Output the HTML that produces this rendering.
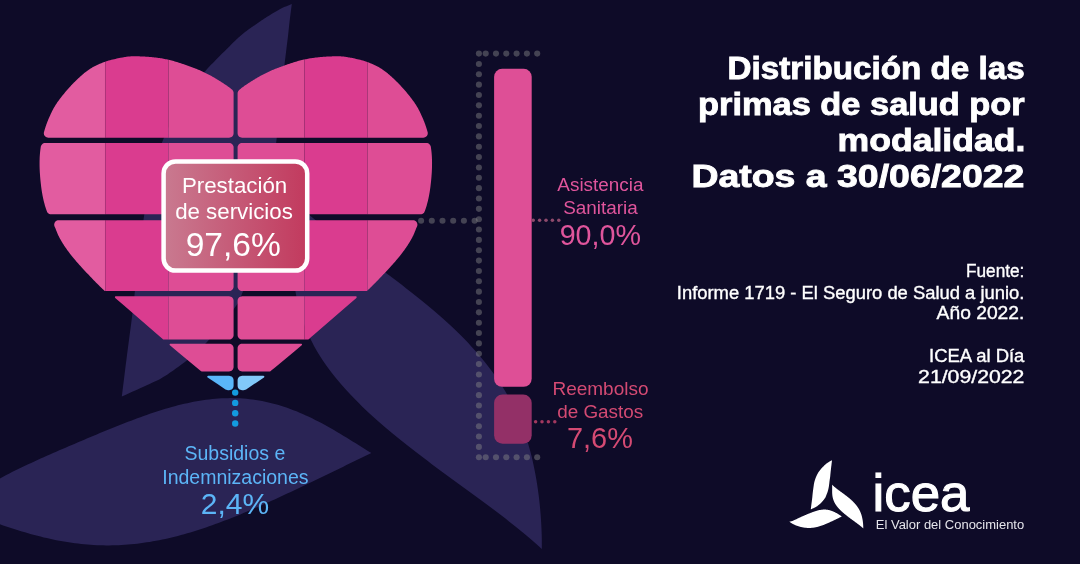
<!DOCTYPE html>
<html lang="es"><head><meta charset="utf-8"><title>Distribución de las primas de salud por modalidad</title>
<style>
html,body{margin:0;padding:0;background:#0E0B28;}
body{width:1080px;height:564px;overflow:hidden;}
svg{display:block;will-change:transform;}
text{font-family:'Liberation Sans', Arial, Helvetica, sans-serif;}
</style></head><body>
<svg width="1080" height="564" viewBox="0 0 1080 564">
<defs>
<linearGradient id="boxg" x1="0" y1="0" x2="1" y2="0">
<stop offset="0" stop-color="#C97A90"/><stop offset="1" stop-color="#C23A5E"/>
</linearGradient>
</defs>
<rect width="1080" height="564" fill="#0E0B28"/>
<g fill="#2A2455"><path d="M291.80 4.10 L290.64 4.56 L289.45 5.02 L288.26 5.48 L287.07 5.94 L285.90 6.40 L284.75 6.86 L283.65 7.33 L282.60 7.80 L281.61 8.28 L280.68 8.75 L279.78 9.23 L278.92 9.71 L278.07 10.20 L277.23 10.69 L276.37 11.19 L275.50 11.70 L274.61 12.22 L273.73 12.74 L272.84 13.27 L271.95 13.81 L271.06 14.35 L270.17 14.89 L269.29 15.45 L268.40 16.00 L267.51 16.56 L266.62 17.12 L265.74 17.69 L264.85 18.26 L263.96 18.84 L263.07 19.42 L262.19 20.01 L261.30 20.60 L260.41 21.20 L259.53 21.80 L258.64 22.41 L257.75 23.03 L256.86 23.64 L255.98 24.26 L255.09 24.88 L254.20 25.50 L253.31 26.12 L252.42 26.73 L251.54 27.34 L250.65 27.95 L249.76 28.57 L248.87 29.20 L247.99 29.84 L247.10 30.50 L246.21 31.17 L245.32 31.86 L244.42 32.56 L243.53 33.26 L242.64 33.98 L241.75 34.71 L240.87 35.45 L240.00 36.20 L239.21 36.89 L238.53 37.49 L237.91 38.05 L237.26 38.65 L236.54 39.34 L235.66 40.19 L234.57 41.25 L233.20 42.60 L231.46 44.31 L229.38 46.38 L227.05 48.68 L224.59 51.13 L222.10 53.62 L219.69 56.05 L217.45 58.31 L215.50 60.30 L213.91 61.91 L212.62 63.17 L211.51 64.24 L210.47 65.27 L209.39 66.39 L208.16 67.76 L206.67 69.51 L204.80 71.80 L202.50 74.63 L199.86 77.85 L196.97 81.41 L193.92 85.24 L190.80 89.28 L187.72 93.46 L184.75 97.72 L182.00 102.00 L179.40 106.36 L176.84 110.90 L174.33 115.59 L171.89 120.39 L169.52 125.26 L167.24 130.18 L165.06 135.10 L163.00 140.00 L161.04 144.92 L159.17 149.93 L157.38 154.99 L155.69 160.06 L154.11 165.13 L152.62 170.16 L151.25 175.13 L150.00 180.00 L148.91 184.73 L147.99 189.32 L147.20 193.83 L146.51 198.31 L145.87 202.82 L145.25 207.40 L144.61 212.11 L143.90 217.00 L143.14 222.16 L142.35 227.56 L141.56 233.12 L140.78 238.75 L140.01 244.34 L139.29 249.81 L138.61 255.06 L138.00 260.00 L137.46 264.68 L136.97 269.22 L136.53 273.60 L136.13 277.83 L135.76 281.89 L135.40 285.78 L135.05 289.48 L134.70 293.00 L134.38 296.13 L134.10 298.78 L133.86 301.15 L133.62 303.39 L133.37 305.70 L133.08 308.23 L132.73 311.17 L132.30 314.70 L131.78 318.84 L131.18 323.44 L130.52 328.40 L129.82 333.61 L129.11 338.98 L128.39 344.40 L127.68 349.78 L127.00 355.00 L126.35 360.13 L125.69 365.29 L125.04 370.47 L124.39 375.68 L123.75 380.88 L123.10 386.10 L122.45 391.30 L121.80 396.50 L125.36 394.91 L129.04 393.27 L132.77 391.61 L136.47 389.97 L140.08 388.36 L143.52 386.81 L146.72 385.35 L149.60 384.00 L152.07 382.84 L154.16 381.87 L155.98 381.02 L157.64 380.22 L159.26 379.39 L160.96 378.46 L162.83 377.35 L165.00 376.00 L167.48 374.40 L170.15 372.61 L172.97 370.67 L175.88 368.62 L178.82 366.50 L181.75 364.33 L184.59 362.15 L187.30 360.00 L189.82 357.97 L192.19 356.06 L194.47 354.19 L196.73 352.25 L199.05 350.16 L201.48 347.81 L204.11 345.12 L207.00 342.00 L210.34 338.20 L214.13 333.73 L218.19 328.81 L222.34 323.69 L226.38 318.61 L230.13 313.80 L233.40 309.52 L236.00 306.00 L237.82 303.45 L238.97 301.72 L239.66 300.54 L240.04 299.62 L240.32 298.70 L240.67 297.47 L241.27 295.66 L242.30 293.00 L243.77 289.45 L245.52 285.26 L247.45 280.58 L249.48 275.56 L251.54 270.35 L253.53 265.09 L255.38 259.92 L257.00 255.00 L258.42 250.31 L259.72 245.71 L260.92 241.15 L262.04 236.56 L263.10 231.91 L264.09 227.13 L265.06 222.18 L266.00 217.00 L266.90 211.44 L267.75 205.48 L268.54 199.29 L269.28 193.00 L269.99 186.78 L270.68 180.77 L271.34 175.12 L272.00 170.00 L272.64 165.50 L273.24 161.54 L273.82 157.94 L274.38 154.56 L274.92 151.24 L275.45 147.80 L275.97 144.11 L276.50 140.00 L277.02 135.45 L277.53 130.61 L278.03 125.57 L278.53 120.39 L279.01 115.16 L279.50 109.97 L280.00 104.89 L280.50 100.00 L281.01 95.23 L281.54 90.46 L282.07 85.74 L282.59 81.08 L283.12 76.53 L283.63 72.11 L284.13 67.85 L284.60 63.80 L285.06 59.92 L285.52 56.16 L285.97 52.53 L286.40 49.06 L286.81 45.75 L287.21 42.61 L287.57 39.66 L287.90 36.90 L288.19 34.42 L288.43 32.24 L288.63 30.29 L288.82 28.49 L289.00 26.77 L289.18 25.05 L289.37 23.25 L289.60 21.30 L289.85 19.23 L290.11 17.11 L290.39 14.97 L290.67 12.80 L290.95 10.62 L291.24 8.44 L291.52 6.26 L291.80 4.10Z"/><path d="M292.96 200.00 L295.48 202.51 L298.10 205.02 L300.80 207.53 L303.58 210.04 L306.43 212.55 L309.35 215.06 L312.34 217.58 L315.38 220.09 L318.48 222.60 L321.62 225.11 L324.81 227.62 L328.04 230.13 L331.31 232.64 L334.61 235.15 L337.95 237.66 L341.30 240.17 L344.68 242.68 L348.07 245.19 L351.48 247.71 L354.91 250.22 L358.33 252.73 L361.77 255.24 L365.21 257.75 L368.64 260.26 L372.07 262.77 L375.50 265.28 L378.92 267.79 L382.33 270.30 L385.72 272.81 L389.09 275.32 L392.45 277.83 L395.79 280.35 L399.11 282.86 L402.40 285.37 L405.67 287.88 L408.91 290.39 L412.12 292.90 L415.29 295.41 L418.44 297.92 L421.55 300.43 L424.63 302.94 L427.67 305.45 L430.68 307.96 L433.64 310.47 L436.57 312.99 L439.45 315.50 L442.29 318.01 L445.10 320.52 L447.85 323.03 L450.57 325.54 L453.24 328.05 L455.86 330.56 L458.44 333.07 L460.98 335.58 L463.47 338.09 L465.91 340.60 L468.30 343.12 L470.65 345.63 L472.95 348.14 L475.21 350.65 L477.41 353.16 L479.57 355.67 L481.68 358.18 L483.75 360.69 L485.77 363.20 L487.74 365.71 L489.66 368.22 L491.54 370.73 L493.38 373.24 L495.16 375.76 L496.90 378.27 L498.60 380.78 L500.25 383.29 L501.86 385.80 L503.42 388.31 L504.95 390.82 L506.42 393.33 L507.86 395.84 L509.26 398.35 L510.61 400.86 L511.93 403.37 L513.20 405.88 L514.44 408.40 L515.63 410.91 L516.80 413.42 L517.92 415.93 L519.01 418.44 L520.06 420.95 L521.08 423.46 L522.06 425.97 L523.01 428.48 L523.93 430.99 L524.82 433.50 L525.67 436.01 L526.50 438.53 L527.30 441.04 L528.07 443.55 L528.81 446.06 L529.52 448.57 L530.21 451.08 L530.87 453.59 L531.50 456.10 L532.12 458.61 L532.70 461.12 L533.27 463.63 L533.81 466.14 L534.33 468.65 L534.83 471.17 L535.31 473.68 L535.77 476.19 L536.21 478.70 L536.64 481.21 L537.04 483.72 L537.43 486.23 L537.79 488.74 L538.14 491.25 L538.48 493.76 L538.80 496.27 L539.10 498.78 L539.38 501.29 L539.65 503.81 L539.91 506.32 L540.15 508.83 L540.37 511.34 L540.58 513.85 L540.77 516.36 L540.95 518.87 L541.11 521.38 L541.26 523.89 L541.39 526.40 L541.51 528.91 L541.60 531.42 L541.69 533.94 L541.75 536.45 L541.80 538.96 L541.83 541.47 L541.84 543.98 L541.83 546.49 L541.80 549.00 L539.07 546.49 L536.29 543.98 L533.46 541.47 L530.57 538.96 L527.62 536.45 L524.63 533.94 L521.59 531.42 L518.50 528.91 L515.38 526.40 L512.21 523.89 L509.01 521.38 L505.78 518.87 L502.51 516.36 L499.22 513.85 L495.90 511.34 L492.56 508.83 L489.19 506.32 L485.81 503.81 L482.42 501.29 L479.01 498.78 L475.59 496.27 L472.16 493.76 L468.73 491.25 L465.29 488.74 L461.85 486.23 L458.41 483.72 L454.98 481.21 L451.54 478.70 L448.12 476.19 L444.70 473.68 L441.29 471.17 L437.90 468.65 L434.52 466.14 L431.15 463.63 L427.81 461.12 L424.48 458.61 L421.17 456.10 L417.89 453.59 L414.62 451.08 L411.39 448.57 L408.18 446.06 L405.00 443.55 L401.85 441.04 L398.73 438.53 L395.65 436.01 L392.60 433.50 L389.58 430.99 L386.60 428.48 L383.65 425.97 L380.75 423.46 L377.89 420.95 L375.06 418.44 L372.28 415.93 L369.54 413.42 L366.84 410.91 L364.19 408.40 L361.58 405.88 L359.02 403.37 L356.51 400.86 L354.04 398.35 L351.62 395.84 L349.25 393.33 L346.92 390.82 L344.65 388.31 L342.43 385.80 L340.26 383.29 L338.14 380.78 L336.06 378.27 L334.05 375.76 L332.08 373.24 L330.16 370.73 L328.30 368.22 L326.49 365.71 L324.73 363.20 L323.02 360.69 L321.37 358.18 L319.77 355.67 L318.22 353.16 L316.72 350.65 L315.28 348.14 L313.88 345.63 L312.54 343.12 L311.25 340.60 L310.01 338.09 L308.82 335.58 L307.68 333.07 L306.59 330.56 L305.55 328.05 L304.55 325.54 L303.61 323.03 L302.71 320.52 L301.86 318.01 L301.05 315.50 L300.29 312.99 L299.58 310.47 L298.90 307.96 L298.27 305.45 L297.68 302.94 L297.14 300.43 L296.63 297.92 L296.16 295.41 L295.72 292.90 L295.33 290.39 L294.97 287.88 L294.64 285.37 L294.34 282.86 L294.08 280.35 L293.85 277.83 L293.64 275.32 L293.46 272.81 L293.31 270.30 L293.18 267.79 L293.07 265.28 L292.99 262.77 L292.92 260.26 L292.87 257.75 L292.84 255.24 L292.82 252.73 L292.81 250.22 L292.81 247.71 L292.82 245.19 L292.84 242.68 L292.86 240.17 L292.88 237.66 L292.91 235.15 L292.93 232.64 L292.95 230.13 L292.96 227.62 L292.96 225.11 L292.95 222.60 L292.93 220.09 L292.90 217.58 L292.84 215.06 L292.77 212.55 L292.67 210.04 L292.54 207.53 L292.39 205.02 L292.21 202.51Z"/><path d="M371.40 453.01 L368.28 451.20 L365.16 449.24 L362.04 447.28 L358.92 445.31 L355.79 443.35 L352.67 441.40 L349.55 439.46 L346.43 437.53 L343.31 435.63 L340.19 433.75 L337.07 431.89 L333.95 430.06 L330.83 428.27 L327.71 426.51 L324.58 424.79 L321.46 423.11 L318.34 421.47 L315.22 419.88 L312.10 418.33 L308.98 416.84 L305.86 415.39 L302.74 413.99 L299.62 412.65 L296.50 411.37 L293.37 410.14 L290.25 408.96 L287.13 407.85 L284.01 406.79 L280.89 405.79 L277.77 404.85 L274.65 403.98 L271.53 403.16 L268.41 402.41 L265.29 401.72 L262.16 401.08 L259.04 400.51 L255.92 400.01 L252.80 399.56 L249.68 399.17 L246.56 398.85 L243.44 398.58 L240.32 398.37 L237.20 398.22 L234.08 398.13 L230.95 398.10 L227.83 398.13 L224.71 398.21 L221.59 398.34 L218.47 398.53 L215.35 398.77 L212.23 399.07 L209.11 399.41 L205.99 399.81 L202.87 400.25 L199.74 400.74 L196.62 401.27 L193.50 401.85 L190.38 402.47 L187.26 403.14 L184.14 403.84 L181.02 404.59 L177.90 405.37 L174.78 406.19 L171.66 407.04 L168.53 407.92 L165.41 408.84 L162.29 409.79 L159.17 410.77 L156.05 411.77 L152.93 412.80 L149.81 413.86 L146.69 414.94 L143.57 416.04 L140.45 417.17 L137.32 418.31 L134.20 419.47 L131.08 420.65 L127.96 421.84 L124.84 423.05 L121.72 424.27 L118.60 425.51 L115.48 426.75 L112.36 428.01 L109.24 429.28 L106.11 430.55 L102.99 431.83 L99.87 433.12 L96.75 434.42 L93.63 435.72 L90.51 437.03 L87.39 438.35 L84.27 439.66 L81.15 440.99 L78.03 442.31 L74.90 443.64 L71.78 444.98 L68.66 446.32 L65.54 447.66 L62.42 449.01 L59.30 450.36 L56.18 451.72 L53.06 453.08 L49.94 454.45 L46.82 455.83 L43.69 457.22 L40.57 458.62 L37.45 460.02 L34.33 461.44 L31.21 462.88 L28.09 464.33 L24.97 465.79 L21.85 467.28 L18.73 468.78 L15.61 470.31 L12.48 471.87 L9.36 473.45 L6.24 475.06 L3.12 476.71 L0.00 478.39 L-25.00 489.00 L-50.00 496.00 L-25.00 512.00 L0.00 524.35 L3.12 525.41 L6.24 526.45 L9.36 527.48 L12.48 528.49 L15.61 529.49 L18.73 530.46 L21.85 531.42 L24.97 532.35 L28.09 533.25 L31.21 534.13 L34.33 534.99 L37.45 535.81 L40.57 536.61 L43.69 537.38 L46.82 538.12 L49.94 538.82 L53.06 539.50 L56.18 540.14 L59.30 540.74 L62.42 541.31 L65.54 541.85 L68.66 542.35 L71.78 542.81 L74.90 543.24 L78.03 543.62 L81.15 543.98 L84.27 544.29 L87.39 544.56 L90.51 544.80 L93.63 544.99 L96.75 545.15 L99.87 545.27 L102.99 545.35 L106.11 545.39 L109.24 545.39 L112.36 545.35 L115.48 545.27 L118.60 545.15 L121.72 545.00 L124.84 544.80 L127.96 544.57 L131.08 544.30 L134.20 543.99 L137.32 543.64 L140.45 543.25 L143.57 542.83 L146.69 542.37 L149.81 541.88 L152.93 541.35 L156.05 540.78 L159.17 540.18 L162.29 539.55 L165.41 538.88 L168.53 538.18 L171.66 537.45 L174.78 536.68 L177.90 535.88 L181.02 535.05 L184.14 534.20 L187.26 533.31 L190.38 532.39 L193.50 531.45 L196.62 530.48 L199.74 529.48 L202.87 528.45 L205.99 527.40 L209.11 526.33 L212.23 525.23 L215.35 524.11 L218.47 522.96 L221.59 521.80 L224.71 520.61 L227.83 519.41 L230.95 518.18 L234.08 516.93 L237.20 515.67 L240.32 514.39 L243.44 513.10 L246.56 511.78 L249.68 510.46 L252.80 509.11 L255.92 507.76 L259.04 506.39 L262.16 505.01 L265.29 503.62 L268.41 502.21 L271.53 500.80 L274.65 499.38 L277.77 497.94 L280.89 496.50 L284.01 495.06 L287.13 493.60 L290.25 492.14 L293.37 490.67 L296.50 489.19 L299.62 487.71 L302.74 486.23 L305.86 484.74 L308.98 483.24 L312.10 481.75 L315.22 480.24 L318.34 478.74 L321.46 477.23 L324.58 475.73 L327.71 474.21 L330.83 472.70 L333.95 471.19 L337.07 469.67 L340.19 468.15 L343.31 466.63 L346.43 465.11 L349.55 463.58 L352.67 462.06 L355.79 460.53 L358.92 459.00 L362.04 457.47 L365.16 455.94 L368.28 454.40Z"/></g>
<g><path d="M43.83 132.84 L43.85 133.76 L44.06 134.67 L44.45 135.51 L45.00 136.25 L45.70 136.86 L46.51 137.32 L47.39 137.60 L48.31 137.70 L105.30 137.70 L105.30 61.68 L104.37 62.03 L104.32 62.04 L102.87 62.60 L102.82 62.62 L101.35 63.20 L101.29 63.22 L99.80 63.83 L99.73 63.86 L98.25 64.51 L98.16 64.54 L96.69 65.22 L96.60 65.26 L95.14 65.97 L95.04 66.02 L93.62 66.76 L93.50 66.82 L92.13 67.58 L91.99 67.66 L90.67 68.46 L90.53 68.54 L89.24 69.39 L89.11 69.47 L87.82 70.38 L87.71 70.46 L86.42 71.42 L86.33 71.49 L85.03 72.51 L84.96 72.57 L83.67 73.62 L83.61 73.68 L82.32 74.77 L82.27 74.82 L80.99 75.94 L80.95 75.97 L79.68 77.12 L79.65 77.15 L78.38 78.31 L78.36 78.33 L77.12 79.48 L77.08 79.52 L75.87 80.67 L75.82 80.72 L74.63 81.88 L74.58 81.93 L73.40 83.11 L73.36 83.16 L72.20 84.36 L72.16 84.40 L71.01 85.62 L70.97 85.66 L69.83 86.90 L69.80 86.94 L68.68 88.19 L68.65 88.22 L67.54 89.48 L67.51 89.51 L66.42 90.78 L66.39 90.81 L65.31 92.09 L65.29 92.11 L64.22 93.40 L64.19 93.43 L63.13 94.73 L63.10 94.76 L62.05 96.07 L62.02 96.10 L60.99 97.41 L60.96 97.46 L59.95 98.77 L59.91 98.82 L58.93 100.13 L58.89 100.18 L57.95 101.49 L57.90 101.55 L57.00 102.85 L56.95 102.92 L56.09 104.21 L56.04 104.29 L55.23 105.55 L55.17 105.65 L54.41 106.91 L54.35 107.01 L53.63 108.28 L53.58 108.37 L52.88 109.66 L52.84 109.74 L52.17 111.05 L52.14 111.12 L51.50 112.43 L51.47 112.49 L50.85 113.80 L50.83 113.85 L50.23 115.16 L50.21 115.19 L49.63 116.49 L49.62 116.52 L49.06 117.81 L49.05 117.83 L48.51 119.08 L48.49 119.12 L47.99 120.32 L47.96 120.38 L47.49 121.55 L47.46 121.61 L47.02 122.76 L47.00 122.82 L46.58 123.95 L46.56 124.00 L46.16 125.12 L46.14 125.18 L45.76 126.29 L45.74 126.34 L45.38 127.44 L45.36 127.49 L45.01 128.59 L45.00 128.63 L44.65 129.74 L44.64 129.77 L44.31 130.88 L44.30 130.92 L44.00 131.92Z" fill="#E25CA0"/>
<path d="M168.40 137.70 L168.40 59.75 L167.66 59.58 L167.62 59.57 L166.63 59.36 L166.60 59.35 L165.61 59.14 L165.58 59.13 L164.59 58.94 L164.55 58.93 L163.57 58.74 L163.53 58.73 L162.55 58.55 L162.52 58.54 L161.53 58.37 L161.50 58.37 L160.52 58.20 L160.48 58.20 L159.51 58.04 L159.46 58.04 L158.50 57.90 L158.45 57.89 L157.49 57.76 L157.45 57.75 L156.48 57.63 L156.44 57.62 L155.47 57.51 L155.43 57.50 L154.46 57.40 L154.43 57.39 L153.45 57.29 L153.42 57.29 L152.44 57.19 L152.41 57.19 L151.42 57.09 L151.40 57.09 L150.41 57.00 L150.39 57.00 L149.40 56.91 L149.37 56.91 L148.38 56.83 L148.35 56.83 L147.36 56.76 L147.33 56.76 L146.34 56.69 L146.31 56.69 L145.32 56.63 L145.29 56.62 L144.30 56.57 L144.27 56.57 L143.28 56.52 L143.25 56.52 L142.25 56.47 L142.23 56.47 L141.23 56.43 L141.21 56.43 L140.20 56.40 L139.18 56.37 L138.17 56.33 L138.17 56.33 L137.17 56.30 L137.15 56.30 L136.17 56.28 L136.13 56.27 L135.16 56.26 L135.11 56.26 L134.16 56.25 L134.09 56.25 L133.14 56.26 L133.06 56.26 L132.12 56.28 L132.03 56.28 L131.10 56.33 L130.99 56.33 L130.05 56.40 L129.95 56.40 L128.99 56.49 L128.92 56.50 L127.96 56.60 L127.88 56.61 L126.92 56.73 L126.85 56.74 L125.88 56.87 L125.82 56.88 L124.83 57.03 L124.77 57.04 L123.76 57.21 L123.71 57.22 L122.67 57.41 L122.63 57.42 L121.56 57.62 L121.52 57.63 L120.40 57.85 L120.37 57.86 L119.20 58.10 L117.97 58.35 L116.72 58.61 L116.71 58.61 L115.44 58.88 L115.41 58.88 L114.14 59.16 L114.09 59.17 L112.81 59.46 L112.74 59.48 L111.46 59.79 L111.37 59.81 L110.08 60.15 L109.99 60.18 L108.69 60.55 L108.58 60.58 L107.29 60.99 L107.16 61.03 L105.84 61.49 L105.76 61.52 L105.30 61.68 L105.30 137.70Z" fill="#DA3C8F"/>
<path d="M229.10 137.70 L229.98 137.61 L230.82 137.36 L231.60 136.94 L232.28 136.38 L232.84 135.70 L233.26 134.92 L233.51 134.08 L233.60 133.20 L233.60 93.01 L233.50 92.05 L233.19 91.13 L232.69 90.30 L232.02 89.59 L231.94 89.52 L231.90 89.48 L231.26 88.96 L231.21 88.91 L230.56 88.39 L230.50 88.34 L229.83 87.82 L229.77 87.78 L229.07 87.25 L229.03 87.22 L228.31 86.70 L228.27 86.67 L227.53 86.14 L227.49 86.12 L226.74 85.59 L226.70 85.57 L225.93 85.04 L225.90 85.01 L225.10 84.48 L225.08 84.46 L224.26 83.92 L224.24 83.91 L223.39 83.36 L223.38 83.34 L222.51 82.78 L222.50 82.78 L221.61 82.20 L221.59 82.20 L220.67 81.61 L220.66 81.60 L219.71 81.00 L219.70 80.99 L218.72 80.38 L218.70 80.37 L217.71 79.75 L217.69 79.74 L216.69 79.13 L216.66 79.11 L215.65 78.50 L215.63 78.48 L214.61 77.88 L214.58 77.86 L213.57 77.27 L213.54 77.25 L212.54 76.68 L212.50 76.66 L211.52 76.11 L211.48 76.09 L210.50 75.55 L210.47 75.54 L209.48 75.01 L209.45 74.99 L208.46 74.47 L208.43 74.46 L207.44 73.95 L207.41 73.93 L206.42 73.43 L206.39 73.42 L205.40 72.93 L205.37 72.91 L204.38 72.43 L204.35 72.42 L203.36 71.95 L203.33 71.93 L202.34 71.47 L202.30 71.46 L201.32 71.01 L201.28 70.99 L200.30 70.56 L200.26 70.54 L199.28 70.12 L199.24 70.10 L198.26 69.69 L198.22 69.67 L197.24 69.27 L197.20 69.26 L196.21 68.86 L196.19 68.85 L195.19 68.46 L195.17 68.45 L194.17 68.06 L194.15 68.06 L193.15 67.67 L193.13 67.67 L192.12 67.29 L192.12 67.28 L191.10 66.90 L191.10 66.90 L190.09 66.52 L190.07 66.51 L189.07 66.14 L189.05 66.14 L188.05 65.77 L188.03 65.76 L187.03 65.40 L187.01 65.39 L186.01 65.03 L185.99 65.03 L184.99 64.68 L184.97 64.67 L183.97 64.32 L183.95 64.32 L182.95 63.98 L182.93 63.97 L181.93 63.64 L181.91 63.63 L180.91 63.30 L180.89 63.30 L179.89 62.97 L179.87 62.97 L178.87 62.65 L178.85 62.64 L177.85 62.33 L177.83 62.32 L176.83 62.02 L176.81 62.01 L175.81 61.71 L175.79 61.70 L174.80 61.41 L174.76 61.40 L173.78 61.12 L173.74 61.11 L172.76 60.84 L172.72 60.83 L171.74 60.57 L171.70 60.56 L170.72 60.31 L170.68 60.29 L169.70 60.05 L169.66 60.05 L168.68 59.81 L168.64 59.80 L168.40 59.75 L168.40 137.70Z" fill="#DE4D95"/>
<path d="M105.70 137.70 L105.70 61.54 L104.90 61.83 L104.90 137.70Z" fill="#A8327C" fill-opacity="0.13"/>
<path d="M168.80 137.70 L168.80 59.84 L168.68 59.81 L168.64 59.80 L168.00 59.66 L168.00 137.70Z" fill="#A8327C" fill-opacity="0.13"/>
<path d="M238.51 90.64 L238.01 91.47 L237.70 92.39 L237.60 93.35 L237.60 133.20 L237.69 134.08 L237.94 134.92 L238.36 135.70 L238.92 136.38 L239.60 136.94 L240.38 137.36 L241.22 137.61 L242.10 137.70 L304.50 137.70 L304.50 59.46 L303.98 59.57 L303.94 59.58 L302.96 59.80 L302.92 59.81 L301.94 60.05 L301.90 60.05 L300.92 60.29 L300.88 60.31 L299.90 60.56 L299.86 60.57 L298.88 60.83 L298.84 60.84 L297.86 61.11 L297.82 61.12 L296.84 61.40 L296.80 61.41 L295.81 61.70 L295.79 61.71 L294.79 62.01 L294.77 62.02 L293.77 62.32 L293.75 62.33 L292.75 62.64 L292.73 62.65 L291.73 62.97 L291.71 62.97 L290.71 63.30 L290.69 63.30 L289.69 63.63 L289.67 63.64 L288.67 63.97 L288.65 63.98 L287.65 64.32 L287.63 64.32 L286.63 64.67 L286.61 64.68 L285.61 65.03 L285.59 65.03 L284.59 65.39 L284.57 65.40 L283.57 65.76 L283.55 65.77 L282.55 66.14 L282.53 66.14 L281.53 66.51 L281.51 66.52 L280.50 66.90 L280.50 66.90 L279.48 67.28 L279.48 67.29 L278.47 67.67 L278.45 67.67 L277.45 68.06 L277.43 68.06 L276.43 68.45 L276.41 68.46 L275.41 68.85 L275.39 68.86 L274.40 69.26 L274.36 69.27 L273.38 69.67 L273.34 69.69 L272.36 70.10 L272.32 70.12 L271.34 70.54 L271.30 70.56 L270.32 70.99 L270.28 71.01 L269.30 71.46 L269.26 71.47 L268.27 71.93 L268.24 71.95 L267.25 72.42 L267.22 72.43 L266.23 72.91 L266.20 72.93 L265.21 73.42 L265.18 73.43 L264.19 73.93 L264.16 73.95 L263.17 74.46 L263.14 74.47 L262.15 74.99 L262.12 75.01 L261.13 75.54 L261.10 75.55 L260.12 76.09 L260.08 76.11 L259.10 76.66 L259.06 76.68 L258.06 77.25 L258.03 77.27 L257.02 77.86 L256.99 77.88 L255.97 78.48 L255.95 78.50 L254.94 79.11 L254.91 79.13 L253.91 79.74 L253.89 79.75 L252.90 80.37 L252.88 80.38 L251.90 80.99 L251.89 81.00 L250.94 81.60 L250.93 81.61 L250.01 82.20 L249.99 82.20 L249.10 82.78 L249.09 82.78 L248.22 83.34 L248.21 83.36 L247.36 83.91 L247.34 83.92 L246.52 84.46 L246.50 84.48 L245.70 85.01 L245.67 85.04 L244.90 85.57 L244.86 85.59 L244.11 86.12 L244.07 86.14 L243.33 86.67 L243.29 86.70 L242.57 87.22 L242.53 87.25 L241.83 87.78 L241.77 87.82 L241.10 88.34 L241.04 88.39 L240.39 88.91 L240.34 88.96 L239.70 89.48 L239.66 89.52 L239.18 89.93Z" fill="#DE4D95"/>
<path d="M367.40 137.70 L367.40 62.09 L367.28 62.04 L367.23 62.03 L365.84 61.52 L365.76 61.49 L364.44 61.03 L364.31 60.99 L363.02 60.58 L362.91 60.55 L361.61 60.18 L361.52 60.15 L360.23 59.81 L360.14 59.79 L358.86 59.48 L358.79 59.46 L357.51 59.17 L357.46 59.16 L356.19 58.88 L356.16 58.88 L354.89 58.61 L354.88 58.61 L353.63 58.35 L352.40 58.10 L351.23 57.86 L351.20 57.85 L350.08 57.63 L350.04 57.62 L348.97 57.42 L348.93 57.41 L347.89 57.22 L347.84 57.21 L346.83 57.04 L346.77 57.03 L345.78 56.88 L345.72 56.87 L344.75 56.74 L344.68 56.73 L343.72 56.61 L343.64 56.60 L342.68 56.50 L342.61 56.49 L341.65 56.40 L341.55 56.40 L340.61 56.33 L340.50 56.33 L339.57 56.28 L339.48 56.28 L338.54 56.26 L338.46 56.26 L337.51 56.25 L337.44 56.25 L336.49 56.26 L336.44 56.26 L335.47 56.27 L335.43 56.28 L334.45 56.30 L334.43 56.30 L333.43 56.33 L333.43 56.33 L332.42 56.37 L331.40 56.40 L330.39 56.43 L330.37 56.43 L329.37 56.47 L329.35 56.47 L328.35 56.52 L328.32 56.52 L327.33 56.57 L327.30 56.57 L326.31 56.62 L326.28 56.63 L325.29 56.69 L325.26 56.69 L324.27 56.76 L324.24 56.76 L323.25 56.83 L323.22 56.83 L322.23 56.91 L322.20 56.91 L321.21 57.00 L321.19 57.00 L320.20 57.09 L320.18 57.09 L319.19 57.19 L319.16 57.19 L318.18 57.29 L318.15 57.29 L317.17 57.39 L317.14 57.40 L316.17 57.50 L316.13 57.51 L315.16 57.62 L315.12 57.63 L314.15 57.75 L314.11 57.76 L313.15 57.89 L313.10 57.90 L312.14 58.04 L312.09 58.04 L311.12 58.20 L311.08 58.20 L310.10 58.37 L310.07 58.37 L309.08 58.54 L309.05 58.55 L308.07 58.73 L308.03 58.74 L307.05 58.93 L307.01 58.94 L306.02 59.13 L305.99 59.14 L305.00 59.35 L304.97 59.36 L304.50 59.46 L304.50 137.70Z" fill="#DA3C8F"/>
<path d="M423.29 137.70 L424.21 137.60 L425.09 137.32 L425.90 136.86 L426.60 136.25 L427.15 135.51 L427.54 134.67 L427.75 133.76 L427.77 132.84 L427.60 131.92 L427.30 130.92 L427.29 130.88 L426.96 129.77 L426.95 129.74 L426.60 128.63 L426.59 128.59 L426.24 127.49 L426.22 127.44 L425.86 126.34 L425.84 126.29 L425.46 125.18 L425.44 125.12 L425.04 124.00 L425.02 123.95 L424.60 122.82 L424.58 122.76 L424.14 121.61 L424.11 121.55 L423.64 120.38 L423.61 120.32 L423.11 119.12 L423.09 119.08 L422.55 117.83 L422.54 117.81 L421.98 116.52 L421.97 116.49 L421.39 115.19 L421.37 115.16 L420.77 113.85 L420.75 113.80 L420.13 112.49 L420.10 112.43 L419.46 111.12 L419.43 111.05 L418.76 109.74 L418.72 109.66 L418.02 108.37 L417.97 108.28 L417.25 107.01 L417.19 106.91 L416.43 105.65 L416.37 105.55 L415.56 104.29 L415.51 104.21 L414.65 102.92 L414.60 102.85 L413.70 101.55 L413.65 101.49 L412.71 100.18 L412.67 100.13 L411.69 98.82 L411.65 98.77 L410.64 97.46 L410.61 97.41 L409.58 96.10 L409.55 96.07 L408.50 94.76 L408.47 94.73 L407.41 93.43 L407.38 93.40 L406.31 92.11 L406.29 92.09 L405.21 90.81 L405.18 90.78 L404.09 89.51 L404.06 89.48 L402.95 88.22 L402.92 88.19 L401.80 86.94 L401.77 86.90 L400.63 85.66 L400.59 85.62 L399.44 84.40 L399.40 84.36 L398.24 83.16 L398.20 83.11 L397.02 81.93 L396.97 81.88 L395.78 80.72 L395.73 80.67 L394.52 79.52 L394.48 79.48 L393.24 78.33 L393.22 78.31 L391.95 77.15 L391.92 77.12 L390.65 75.97 L390.61 75.94 L389.33 74.82 L389.28 74.77 L387.99 73.68 L387.93 73.62 L386.64 72.57 L386.57 72.51 L385.27 71.49 L385.18 71.42 L383.89 70.46 L383.78 70.38 L382.49 69.47 L382.36 69.39 L381.07 68.54 L380.93 68.46 L379.61 67.66 L379.47 67.58 L378.10 66.82 L377.98 66.76 L376.56 66.02 L376.46 65.97 L375.00 65.26 L374.91 65.22 L373.44 64.54 L373.35 64.51 L371.87 63.86 L371.80 63.83 L370.31 63.22 L370.25 63.20 L368.78 62.62 L368.73 62.60 L367.40 62.09 L367.40 137.70Z" fill="#DE4D95"/>
<path d="M304.90 137.70 L304.90 59.37 L304.10 59.55 L304.10 137.70Z" fill="#A8327C" fill-opacity="0.13"/>
<path d="M367.80 137.70 L367.80 62.24 L367.28 62.04 L367.23 62.03 L367.00 61.94 L367.00 137.70Z" fill="#A8327C" fill-opacity="0.13"/>
<path d="M44.31 143.09 L43.44 143.37 L42.64 143.81 L41.95 144.41 L41.39 145.13 L40.99 145.95 L40.77 146.83 L40.60 147.92 L40.60 147.97 L40.43 149.14 L40.43 149.19 L40.28 150.36 L40.27 150.41 L40.14 151.59 L40.13 151.65 L40.01 152.83 L40.01 152.89 L39.90 154.07 L39.90 154.13 L39.81 155.32 L39.81 155.38 L39.73 156.59 L39.73 156.64 L39.67 157.86 L39.67 157.91 L39.63 159.15 L39.63 159.19 L39.59 160.43 L39.59 160.48 L39.57 161.73 L39.57 161.77 L39.57 163.02 L39.57 163.06 L39.57 164.31 L39.57 164.35 L39.58 165.60 L39.58 165.63 L39.60 166.88 L39.60 166.92 L39.63 168.16 L39.63 168.20 L39.68 169.44 L39.68 169.48 L39.73 170.72 L39.74 170.76 L39.80 172.01 L39.80 172.04 L39.88 173.29 L39.88 173.32 L39.97 174.57 L39.97 174.60 L40.07 175.85 L40.07 175.88 L40.17 177.13 L40.17 177.16 L40.28 178.41 L40.28 178.43 L40.40 179.69 L40.40 179.71 L40.52 180.97 L40.53 180.99 L40.65 182.26 L40.66 182.28 L40.79 183.55 L40.80 183.58 L40.94 184.84 L40.95 184.87 L41.10 186.13 L41.10 186.17 L41.26 187.42 L41.27 187.45 L41.43 188.69 L41.44 188.72 L41.61 189.94 L41.62 189.98 L41.80 191.17 L41.81 191.21 L42.00 192.38 L42.00 192.42 L42.20 193.57 L42.21 193.61 L42.41 194.74 L42.42 194.78 L42.63 195.90 L42.64 195.94 L42.86 197.04 L42.87 197.09 L43.10 198.17 L43.10 198.21 L43.34 199.29 L43.35 199.33 L43.59 200.38 L43.60 200.43 L43.85 201.46 L43.86 201.51 L44.12 202.53 L44.13 202.58 L44.39 203.58 L44.41 203.62 L44.68 204.61 L44.69 204.66 L44.97 205.63 L44.99 205.68 L45.27 206.63 L45.29 206.68 L45.58 207.62 L45.60 207.67 L45.90 208.59 L45.92 208.64 L46.22 209.54 L46.24 209.59 L46.55 210.48 L46.57 210.53 L46.88 211.36 L47.28 212.18 L47.84 212.90 L48.53 213.49 L49.33 213.93 L50.19 214.21 L51.10 214.30 L105.30 214.30 L105.30 143.00 L45.22 143.00Z" fill="#E25CA0"/>
<path d="M168.40 214.30 L168.40 143.00 L105.30 143.00 L105.30 214.30Z" fill="#DA3C8F"/>
<path d="M229.10 214.30 L229.98 214.21 L230.82 213.96 L231.60 213.54 L232.28 212.98 L232.84 212.30 L233.26 211.52 L233.51 210.68 L233.60 209.80 L233.60 147.50 L233.51 146.62 L233.26 145.78 L232.84 145.00 L232.28 144.32 L231.60 143.76 L230.82 143.34 L229.98 143.09 L229.10 143.00 L168.40 143.00 L168.40 214.30Z" fill="#DE4D95"/>
<path d="M105.70 214.30 L105.70 143.00 L104.90 143.00 L104.90 214.30Z" fill="#A8327C" fill-opacity="0.13"/>
<path d="M168.80 214.30 L168.80 143.00 L168.00 143.00 L168.00 214.30Z" fill="#A8327C" fill-opacity="0.13"/>
<path d="M242.10 143.00 L241.22 143.09 L240.38 143.34 L239.60 143.76 L238.92 144.32 L238.36 145.00 L237.94 145.78 L237.69 146.62 L237.60 147.50 L237.60 209.80 L237.69 210.68 L237.94 211.52 L238.36 212.30 L238.92 212.98 L239.60 213.54 L240.38 213.96 L241.22 214.21 L242.10 214.30 L304.50 214.30 L304.50 143.00Z" fill="#DE4D95"/>
<path d="M304.50 143.00 L304.50 214.30 L367.40 214.30 L367.40 143.00Z" fill="#DA3C8F"/>
<path d="M421.41 214.21 L422.27 213.93 L423.07 213.49 L423.76 212.90 L424.32 212.18 L424.72 211.36 L425.03 210.53 L425.05 210.48 L425.36 209.59 L425.38 209.54 L425.68 208.64 L425.70 208.59 L426.00 207.67 L426.02 207.62 L426.31 206.68 L426.33 206.63 L426.61 205.68 L426.63 205.63 L426.91 204.66 L426.92 204.61 L427.19 203.62 L427.21 203.58 L427.47 202.58 L427.48 202.53 L427.74 201.51 L427.75 201.46 L428.00 200.43 L428.01 200.38 L428.25 199.33 L428.26 199.29 L428.50 198.21 L428.50 198.17 L428.73 197.09 L428.74 197.04 L428.96 195.94 L428.97 195.90 L429.18 194.78 L429.19 194.74 L429.39 193.61 L429.40 193.57 L429.60 192.42 L429.60 192.38 L429.79 191.21 L429.80 191.17 L429.98 189.98 L429.99 189.94 L430.16 188.72 L430.17 188.69 L430.33 187.45 L430.34 187.42 L430.50 186.17 L430.50 186.13 L430.65 184.87 L430.66 184.84 L430.80 183.58 L430.81 183.55 L430.94 182.28 L430.95 182.26 L431.07 180.99 L431.08 180.97 L431.20 179.71 L431.20 179.69 L431.32 178.43 L431.32 178.41 L431.43 177.16 L431.43 177.13 L431.53 175.88 L431.53 175.85 L431.63 174.60 L431.63 174.57 L431.72 173.32 L431.72 173.29 L431.80 172.04 L431.80 172.01 L431.86 170.76 L431.87 170.72 L431.92 169.48 L431.92 169.44 L431.97 168.20 L431.97 168.16 L432.00 166.92 L432.00 166.88 L432.02 165.63 L432.02 165.60 L432.03 164.35 L432.03 164.31 L432.03 163.06 L432.03 163.02 L432.03 161.77 L432.03 161.73 L432.01 160.48 L432.01 160.43 L431.97 159.19 L431.97 159.15 L431.93 157.91 L431.93 157.86 L431.87 156.64 L431.87 156.59 L431.79 155.38 L431.79 155.32 L431.70 154.13 L431.70 154.07 L431.59 152.89 L431.59 152.83 L431.47 151.65 L431.46 151.59 L431.33 150.41 L431.32 150.36 L431.17 149.19 L431.17 149.14 L431.00 147.97 L431.00 147.92 L430.83 146.83 L430.61 145.95 L430.21 145.13 L429.65 144.41 L428.96 143.81 L428.16 143.37 L427.29 143.09 L426.38 143.00 L367.40 143.00 L367.40 214.30 L420.50 214.30Z" fill="#DE4D95"/>
<path d="M304.10 143.00 L304.10 214.30 L304.90 214.30 L304.90 143.00Z" fill="#A8327C" fill-opacity="0.13"/>
<path d="M367.00 143.00 L367.00 214.30 L367.80 214.30 L367.80 143.00Z" fill="#A8327C" fill-opacity="0.13"/>
<path d="M56.91 220.56 L56.12 221.00 L55.43 221.60 L54.87 222.31 L54.47 223.13 L54.24 224.01 L54.19 224.92 L54.33 225.82 L54.64 226.67 L54.80 227.00 L55.15 227.78 L55.51 228.61 L55.86 229.48 L56.22 230.38 L56.58 231.31 L56.58 231.32 L56.95 232.24 L56.96 232.27 L57.33 233.18 L57.35 233.24 L57.72 234.11 L57.76 234.19 L58.14 235.03 L58.19 235.14 L58.58 235.95 L58.62 236.04 L59.04 236.87 L59.07 236.92 L59.51 237.77 L59.54 237.82 L60.00 238.67 L60.03 238.72 L60.50 239.57 L60.53 239.61 L61.01 240.47 L61.04 240.51 L61.54 241.36 L61.56 241.41 L62.08 242.27 L62.11 242.30 L62.64 243.17 L62.66 243.21 L63.21 244.07 L63.23 244.11 L63.79 244.98 L63.81 245.02 L64.38 245.89 L64.41 245.92 L64.98 246.79 L65.01 246.82 L65.60 247.69 L65.62 247.72 L66.22 248.59 L66.25 248.62 L66.86 249.49 L66.89 249.52 L67.52 250.40 L67.55 250.43 L68.20 251.32 L68.23 251.35 L68.91 252.26 L68.93 252.29 L69.63 253.21 L69.66 253.24 L70.39 254.19 L70.41 254.21 L71.17 255.18 L71.19 255.20 L71.97 256.18 L71.99 256.20 L72.79 257.20 L72.81 257.22 L73.64 258.22 L73.66 258.25 L74.50 259.26 L74.52 259.29 L75.39 260.32 L75.41 260.34 L76.31 261.39 L76.32 261.41 L77.24 262.47 L77.26 262.49 L78.20 263.57 L78.22 263.59 L79.19 264.69 L79.21 264.71 L80.22 265.83 L80.24 265.86 L81.29 267.02 L81.31 267.04 L82.40 268.23 L82.42 268.24 L83.54 269.45 L83.55 269.47 L84.70 270.69 L84.71 270.70 L85.86 271.92 L85.87 271.93 L87.02 273.15 L87.03 273.16 L88.17 274.36 L88.18 274.37 L89.30 275.55 L89.30 275.55 L90.40 276.70 L90.40 276.70 L91.49 277.84 L91.50 277.85 L92.60 278.99 L92.61 279.00 L93.72 280.15 L93.73 280.16 L94.84 281.30 L94.85 281.30 L95.94 282.42 L95.95 282.43 L97.01 283.51 L97.02 283.52 L98.05 284.56 L98.06 284.57 L99.03 285.54 L99.04 285.55 L99.95 286.46 L99.96 286.47 L100.79 287.29 L100.81 287.31 L101.54 288.02 L101.58 288.06 L102.12 288.57 L102.24 288.68 L102.24 288.69 L102.26 288.70 L102.26 288.70 L102.84 289.24 L102.84 289.24 L102.85 289.25 L102.86 289.26 L103.19 289.56 L103.40 289.75 L103.40 289.75 L103.42 289.77 L103.42 289.77 L103.43 289.78 L103.43 289.78 L103.52 289.86 L103.52 289.86 L103.94 290.24 L103.95 290.24 L104.44 290.68 L104.45 290.68 L104.56 290.78 L104.83 290.94 L105.15 291.00 L105.30 291.00 L105.30 220.20 L58.69 220.20 L57.78 220.29Z" fill="#E25CA0"/>
<path d="M106.51 291.00 L126.45 291.00 L168.40 291.00 L168.40 220.20 L105.30 220.20 L105.30 291.00Z" fill="#DA3C8F"/>
<path d="M229.10 291.00 L229.98 290.91 L230.82 290.66 L231.60 290.24 L232.28 289.68 L232.84 289.00 L233.26 288.22 L233.51 287.38 L233.60 286.50 L233.60 224.70 L233.51 223.82 L233.26 222.98 L232.84 222.20 L232.28 221.52 L231.60 220.96 L230.82 220.54 L229.98 220.29 L229.10 220.20 L168.40 220.20 L168.40 291.00Z" fill="#DE4D95"/>
<path d="M105.15 291.00 L105.70 291.00 L105.70 220.20 L104.90 220.20 L104.90 290.95Z" fill="#A8327C" fill-opacity="0.13"/>
<path d="M168.80 291.00 L168.80 220.20 L168.00 220.20 L168.00 291.00Z" fill="#A8327C" fill-opacity="0.13"/>
<path d="M242.10 220.20 L241.22 220.29 L240.38 220.54 L239.60 220.96 L238.92 221.52 L238.36 222.20 L237.94 222.98 L237.69 223.82 L237.60 224.70 L237.60 286.50 L237.69 287.38 L237.94 288.22 L238.36 289.00 L238.92 289.68 L239.60 290.24 L240.38 290.66 L241.22 290.91 L242.10 291.00 L304.50 291.00 L304.50 220.20Z" fill="#DE4D95"/>
<path d="M304.50 220.20 L304.50 291.00 L345.15 291.00 L365.09 291.00 L366.45 291.00 L366.77 290.94 L367.04 290.78 L367.15 290.68 L367.16 290.68 L367.40 290.46 L367.40 220.20Z" fill="#DA3C8F"/>
<path d="M368.17 289.78 L368.17 289.78 L368.18 289.77 L368.18 289.77 L368.20 289.75 L368.20 289.75 L368.73 289.27 L368.73 289.27 L368.74 289.26 L368.75 289.25 L369.36 288.69 L369.36 288.68 L369.65 288.41 L370.02 288.06 L370.06 288.02 L370.79 287.31 L370.81 287.29 L371.64 286.47 L371.65 286.46 L372.56 285.55 L372.57 285.54 L373.54 284.57 L373.55 284.56 L374.58 283.52 L374.59 283.51 L375.65 282.43 L375.66 282.42 L376.75 281.30 L376.76 281.30 L377.87 280.16 L377.88 280.15 L378.99 279.00 L379.00 278.99 L380.10 277.85 L380.11 277.84 L381.20 276.70 L381.20 276.70 L382.30 275.55 L382.30 275.55 L383.42 274.37 L383.43 274.36 L384.57 273.16 L384.58 273.15 L385.73 271.93 L385.74 271.92 L386.89 270.70 L386.90 270.69 L388.05 269.47 L388.06 269.45 L389.18 268.24 L389.20 268.23 L390.29 267.04 L390.31 267.02 L391.36 265.86 L391.38 265.83 L392.39 264.71 L392.41 264.69 L393.38 263.59 L393.40 263.57 L394.34 262.49 L394.36 262.47 L395.28 261.41 L395.29 261.39 L396.19 260.34 L396.21 260.32 L397.08 259.29 L397.10 259.26 L397.94 258.25 L397.96 258.22 L398.79 257.22 L398.81 257.20 L399.61 256.20 L399.63 256.18 L400.41 255.20 L400.43 255.18 L401.19 254.21 L401.21 254.19 L401.94 253.24 L401.97 253.21 L402.67 252.29 L402.69 252.26 L403.37 251.35 L403.40 251.32 L404.05 250.43 L404.08 250.40 L404.71 249.52 L404.74 249.49 L405.35 248.62 L405.38 248.59 L405.98 247.72 L406.00 247.69 L406.59 246.82 L406.62 246.79 L407.19 245.92 L407.22 245.89 L407.79 245.02 L407.81 244.98 L408.37 244.11 L408.39 244.07 L408.94 243.21 L408.96 243.17 L409.49 242.30 L409.52 242.27 L410.04 241.41 L410.06 241.36 L410.56 240.51 L410.59 240.47 L411.07 239.61 L411.10 239.57 L411.57 238.72 L411.60 238.67 L412.06 237.82 L412.09 237.77 L412.53 236.92 L412.56 236.87 L412.98 236.04 L413.02 235.95 L413.41 235.14 L413.46 235.03 L413.84 234.19 L413.88 234.11 L414.25 233.24 L414.27 233.18 L414.64 232.27 L414.65 232.24 L415.02 231.32 L415.02 231.31 L415.38 230.38 L415.74 229.48 L416.09 228.61 L416.45 227.78 L416.80 227.00 L416.96 226.67 L417.27 225.82 L417.41 224.92 L417.36 224.01 L417.13 223.13 L416.73 222.31 L416.17 221.60 L415.48 221.00 L414.69 220.56 L413.82 220.29 L412.91 220.20 L367.40 220.20 L367.40 290.46 L367.65 290.24 L367.66 290.24 L368.08 289.86 L368.08 289.86Z" fill="#DE4D95"/>
<path d="M304.10 220.20 L304.10 291.00 L304.90 291.00 L304.90 220.20Z" fill="#A8327C" fill-opacity="0.13"/>
<path d="M367.00 220.20 L367.00 290.80 L367.04 290.78 L367.15 290.68 L367.16 290.68 L367.65 290.24 L367.66 290.24 L367.80 290.11 L367.80 220.20Z" fill="#A8327C" fill-opacity="0.13"/>
<path d="M114.95 296.89 L114.90 297.24 L114.99 297.59 L115.21 297.88 L124.02 305.52 L157.45 334.52 L162.95 339.28 L163.22 339.44 L163.54 339.50 L164.88 339.50 L168.40 339.50 L168.40 296.30 L127.50 296.30 L125.44 296.30 L115.80 296.30 L115.44 296.37 L115.14 296.58Z" fill="#DA3C8F"/>
<path d="M181.35 339.50 L229.10 339.50 L229.98 339.41 L230.82 339.16 L231.60 338.74 L232.28 338.18 L232.84 337.50 L233.26 336.72 L233.51 335.88 L233.60 335.00 L233.60 300.80 L233.51 299.92 L233.26 299.08 L232.84 298.30 L232.28 297.62 L231.60 297.06 L230.82 296.64 L229.98 296.39 L229.10 296.30 L168.40 296.30 L168.40 339.50Z" fill="#DE4D95"/>
<path d="M168.80 339.50 L168.80 296.30 L168.00 296.30 L168.00 339.50Z" fill="#A8327C" fill-opacity="0.13"/>
<path d="M242.10 296.30 L241.22 296.39 L240.38 296.64 L239.60 297.06 L238.92 297.62 L238.36 298.30 L237.94 299.08 L237.69 299.92 L237.60 300.80 L237.60 335.00 L237.69 335.88 L237.94 336.72 L238.36 337.50 L238.92 338.18 L239.60 338.74 L240.38 339.16 L241.22 339.41 L242.10 339.50 L290.25 339.50 L304.50 339.50 L304.50 296.30Z" fill="#DE4D95"/>
<path d="M356.65 296.89 L356.46 296.58 L356.16 296.37 L355.80 296.30 L346.16 296.30 L344.10 296.30 L304.50 296.30 L304.50 339.50 L306.72 339.50 L308.06 339.50 L308.38 339.44 L308.65 339.28 L309.67 338.40 L309.67 338.40 L310.86 337.36 L314.15 334.52 L349.11 304.20 L349.11 304.20 L356.39 297.88 L356.61 297.59 L356.70 297.24Z" fill="#DA3C8F"/>
<path d="M304.10 296.30 L304.10 339.50 L304.90 339.50 L304.90 296.30Z" fill="#A8327C" fill-opacity="0.13"/>
<path d="M169.84 343.98 L169.65 344.29 L169.59 344.66 L169.69 345.01 L169.92 345.29 L178.77 352.64 L195.97 366.94 L201.09 371.19 L201.36 371.35 L201.66 371.40 L202.96 371.40 L220.08 371.40 L229.10 371.40 L229.98 371.31 L230.82 371.06 L231.60 370.64 L232.28 370.08 L232.84 369.40 L233.26 368.62 L233.51 367.78 L233.60 366.90 L233.60 348.20 L233.51 347.32 L233.26 346.48 L232.84 345.70 L232.28 345.02 L231.60 344.46 L230.82 344.04 L229.98 343.79 L229.10 343.70 L182.00 343.70 L180.46 343.70 L170.49 343.70 L170.13 343.77Z" fill="#DE4D95"/>
<path d="M301.95 344.29 L301.76 343.98 L301.47 343.77 L301.11 343.70 L291.14 343.70 L289.60 343.70 L242.10 343.70 L241.22 343.79 L240.38 344.04 L239.60 344.46 L238.92 345.02 L238.36 345.70 L237.94 346.48 L237.69 347.32 L237.60 348.20 L237.60 366.90 L237.69 367.78 L237.94 368.62 L238.36 369.40 L238.92 370.08 L239.60 370.64 L240.38 371.06 L241.22 371.31 L242.10 371.40 L251.52 371.40 L268.64 371.40 L269.94 371.40 L270.24 371.35 L270.51 371.19 L271.51 370.36 L274.11 368.20 L275.63 366.94 L294.02 351.66 L294.02 351.66 L301.68 345.29 L301.91 345.01 L302.01 344.66Z" fill="#DE4D95"/>
<path d="M207.78 375.88 L207.47 376.11 L207.29 376.44 L207.26 376.82 L207.38 377.17 L207.65 377.45 L217.88 384.33 L225.46 389.43 L226.24 389.85 L227.09 390.11 L227.97 390.20 L229.10 390.20 L229.98 390.11 L230.82 389.86 L231.60 389.44 L232.28 388.88 L232.84 388.20 L233.26 387.42 L233.51 386.58 L233.60 385.70 L233.60 380.30 L233.51 379.42 L233.26 378.58 L232.84 377.80 L232.28 377.12 L231.60 376.56 L230.82 376.14 L229.98 375.89 L229.10 375.80 L220.80 375.80 L219.95 375.80 L208.15 375.80Z" fill="#5AB6FA"/>
<path d="M264.34 376.82 L264.31 376.44 L264.13 376.11 L263.82 375.88 L263.45 375.80 L251.65 375.80 L250.80 375.80 L242.10 375.80 L241.22 375.89 L240.38 376.14 L239.60 376.56 L238.92 377.12 L238.36 377.80 L237.94 378.58 L237.69 379.42 L237.60 380.30 L237.60 385.70 L237.69 386.58 L237.94 387.42 L238.36 388.20 L238.92 388.88 L239.60 389.44 L240.38 389.86 L241.22 390.11 L242.10 390.20 L243.63 390.20 L244.51 390.11 L245.36 389.85 L246.14 389.43 L253.72 384.33 L263.95 377.45 L264.22 377.17Z" fill="#82C9FA"/></g>
<g fill="#139BDF"><circle cx="235.2" cy="392.60" r="3.2"/><circle cx="235.2" cy="402.90" r="3.2"/><circle cx="235.2" cy="413.20" r="3.2"/><circle cx="235.2" cy="423.50" r="3.2"/></g>
<g fill="#8A8A8C" fill-opacity="0.44"><circle cx="478.90" cy="53.60" r="3.05"/><circle cx="478.90" cy="63.95" r="3.05"/><circle cx="478.90" cy="74.30" r="3.05"/><circle cx="478.90" cy="84.65" r="3.05"/><circle cx="478.90" cy="95.00" r="3.05"/><circle cx="478.90" cy="105.35" r="3.05"/><circle cx="478.90" cy="115.70" r="3.05"/><circle cx="478.90" cy="126.05" r="3.05"/><circle cx="478.90" cy="136.40" r="3.05"/><circle cx="478.90" cy="146.75" r="3.05"/><circle cx="478.90" cy="157.10" r="3.05"/><circle cx="478.90" cy="167.45" r="3.05"/><circle cx="478.90" cy="177.80" r="3.05"/><circle cx="478.90" cy="188.15" r="3.05"/><circle cx="478.90" cy="198.50" r="3.05"/><circle cx="478.90" cy="208.85" r="3.05"/><circle cx="478.90" cy="219.20" r="3.05"/><circle cx="478.90" cy="229.55" r="3.05"/><circle cx="478.90" cy="239.90" r="3.05"/><circle cx="478.90" cy="250.25" r="3.05"/><circle cx="478.90" cy="260.60" r="3.05"/><circle cx="478.90" cy="270.95" r="3.05"/><circle cx="478.90" cy="281.30" r="3.05"/><circle cx="478.90" cy="291.65" r="3.05"/><circle cx="478.90" cy="302.00" r="3.05"/><circle cx="478.90" cy="312.35" r="3.05"/><circle cx="478.90" cy="322.70" r="3.05"/><circle cx="478.90" cy="333.05" r="3.05"/><circle cx="478.90" cy="343.40" r="3.05"/><circle cx="478.90" cy="353.75" r="3.05"/><circle cx="478.90" cy="364.10" r="3.05"/><circle cx="478.90" cy="374.45" r="3.05"/><circle cx="478.90" cy="384.80" r="3.05"/><circle cx="478.90" cy="395.15" r="3.05"/><circle cx="478.90" cy="405.50" r="3.05"/><circle cx="478.90" cy="415.85" r="3.05"/><circle cx="478.90" cy="426.20" r="3.05"/><circle cx="478.90" cy="436.55" r="3.05"/><circle cx="478.90" cy="446.90" r="3.05"/><circle cx="478.90" cy="457.25" r="3.05"/><circle cx="485.70" cy="53.60" r="3.05"/><circle cx="485.70" cy="457.20" r="3.05"/><circle cx="496.00" cy="53.60" r="3.05"/><circle cx="496.00" cy="457.20" r="3.05"/><circle cx="506.30" cy="53.60" r="3.05"/><circle cx="506.30" cy="457.20" r="3.05"/><circle cx="516.60" cy="53.60" r="3.05"/><circle cx="516.60" cy="457.20" r="3.05"/><circle cx="526.90" cy="53.60" r="3.05"/><circle cx="526.90" cy="457.20" r="3.05"/><circle cx="537.20" cy="53.60" r="3.05"/><circle cx="537.20" cy="457.20" r="3.05"/><circle cx="421.10" cy="220.80" r="3.05"/><circle cx="431.80" cy="220.80" r="3.05"/><circle cx="442.50" cy="220.80" r="3.05"/><circle cx="453.20" cy="220.80" r="3.05"/><circle cx="463.90" cy="220.80" r="3.05"/><circle cx="474.60" cy="220.80" r="3.05"/></g>
<rect x="494.1" y="68.8" width="37.6" height="318" rx="8" fill="#DE4F96"/>
<rect x="494.1" y="394.5" width="37.6" height="49.2" rx="8.5" fill="#933067"/>
<g fill="#8E4A6C"><circle cx="533.20" cy="220.2" r="1.75"/><circle cx="539.60" cy="220.2" r="1.75"/><circle cx="546.00" cy="220.2" r="1.75"/><circle cx="552.40" cy="220.2" r="1.75"/><circle cx="558.80" cy="220.2" r="1.75"/></g>
<g fill="#A2385F"><circle cx="535.60" cy="421.8" r="1.75"/><circle cx="542.00" cy="421.8" r="1.75"/><circle cx="548.40" cy="421.8" r="1.75"/><circle cx="554.80" cy="421.8" r="1.75"/></g>
<rect x="163.6" y="161.4" width="143.6" height="109.2" rx="12" fill="url(#boxg)" stroke="#fff" stroke-width="4.5"/>
<g fill="#fff" text-anchor="middle">
<text x="234.6" y="193.1" font-size="22.3">Prestación</text>
<text x="234" y="219.1" font-size="22.3">de servicios</text>
<text x="233.3" y="256.4" font-size="33.6">97,6%</text>
</g>
<g fill="#E0559C" text-anchor="middle">
<text x="600.4" y="190.9" font-size="18.9">Asistencia</text>
<text x="600.5" y="213.6" font-size="18.9">Sanitaria</text>
<text x="600.3" y="244.5" font-size="28.7">90,0%</text>
</g>
<g fill="#D44A73" text-anchor="middle">
<text x="600.5" y="394.9" font-size="19">Reembolso</text>
<text x="600.2" y="417.6" font-size="18.9">de Gastos</text>
<text x="599.9" y="448.1" font-size="28.9">7,6%</text>
</g>
<g fill="#5CB5F7" text-anchor="middle">
<text x="234.9" y="459.7" font-size="19.5">Subsidios e</text>
<text x="235.4" y="483.7" font-size="19.5">Indemnizaciones</text>
<text x="235" y="514.3" font-size="30">2,4%</text>
</g>
<g fill="#fff" stroke="#fff" stroke-width="0.9" text-anchor="end" font-weight="bold" font-size="32">
<text x="1024.6" y="79" textLength="297" lengthAdjust="spacingAndGlyphs">Distribución de las</text>
<text x="1024.7" y="114.8" textLength="326.6" lengthAdjust="spacingAndGlyphs">primas de salud por</text>
<text x="1025.4" y="151.2" textLength="187.8" lengthAdjust="spacingAndGlyphs">modalidad.</text>
<text x="1024.4" y="186.8" textLength="333" lengthAdjust="spacingAndGlyphs">Datos a 30/06/2022</text>
</g>
<g fill="#fff" stroke="#fff" stroke-width="0.35" text-anchor="end" font-size="17.5">
<text x="1024.4" y="277.2" textLength="58.4" lengthAdjust="spacingAndGlyphs">Fuente:</text>
<text x="1024.4" y="298.6" textLength="347.6" lengthAdjust="spacingAndGlyphs">Informe 1719 - El Seguro de Salud a junio.</text>
<text x="1024.4" y="319.4" textLength="87.8" lengthAdjust="spacingAndGlyphs">Año 2022.</text>
<text x="1024.4" y="362" textLength="95.4" lengthAdjust="spacingAndGlyphs">ICEA al Día</text>
<text x="1024.4" y="383" textLength="106.3" lengthAdjust="spacingAndGlyphs">21/09/2022</text>
</g>
<g fill="#fff"><path d="M832.01 460.31 L831.87 460.37 L831.72 460.43 L831.57 460.48 L831.42 460.54 L831.27 460.60 L831.13 460.66 L830.99 460.72 L830.86 460.78 L830.74 460.83 L830.62 460.89 L830.51 460.95 L830.40 461.01 L830.30 461.07 L830.19 461.14 L830.08 461.20 L829.98 461.26 L829.86 461.33 L829.75 461.39 L829.64 461.46 L829.53 461.53 L829.42 461.59 L829.31 461.66 L829.20 461.73 L829.09 461.80 L828.98 461.87 L828.87 461.94 L828.75 462.01 L828.64 462.08 L828.53 462.15 L828.42 462.23 L828.31 462.30 L828.20 462.38 L828.09 462.45 L827.98 462.53 L827.87 462.60 L827.76 462.68 L827.65 462.76 L827.53 462.83 L827.42 462.91 L827.31 462.99 L827.20 463.06 L827.09 463.14 L826.98 463.22 L826.87 463.29 L826.76 463.37 L826.65 463.45 L826.54 463.53 L826.43 463.61 L826.31 463.70 L826.20 463.78 L826.09 463.87 L825.98 463.96 L825.87 464.05 L825.76 464.14 L825.65 464.23 L825.54 464.32 L825.44 464.41 L825.35 464.49 L825.28 464.56 L825.20 464.63 L825.10 464.72 L824.99 464.82 L824.86 464.96 L824.69 465.12 L824.47 465.34 L824.21 465.60 L823.92 465.89 L823.61 466.19 L823.30 466.50 L823.00 466.81 L822.72 467.09 L822.48 467.34 L822.28 467.54 L822.11 467.70 L821.98 467.83 L821.85 467.96 L821.71 468.10 L821.56 468.27 L821.37 468.49 L821.14 468.78 L820.85 469.13 L820.52 469.53 L820.16 469.98 L819.78 470.46 L819.39 470.96 L819.00 471.48 L818.63 472.02 L818.29 472.55 L817.96 473.10 L817.64 473.66 L817.33 474.25 L817.02 474.85 L816.73 475.46 L816.44 476.07 L816.17 476.69 L815.91 477.30 L815.67 477.92 L815.43 478.54 L815.21 479.17 L815.00 479.81 L814.80 480.44 L814.62 481.07 L814.44 481.69 L814.29 482.30 L814.15 482.89 L814.04 483.47 L813.94 484.03 L813.85 484.59 L813.77 485.15 L813.69 485.72 L813.61 486.31 L813.52 486.93 L813.43 487.57 L813.33 488.25 L813.23 488.94 L813.13 489.64 L813.04 490.34 L812.95 491.03 L812.86 491.68 L812.79 492.30 L812.72 492.89 L812.66 493.45 L812.60 494.00 L812.55 494.53 L812.51 495.04 L812.46 495.52 L812.42 495.99 L812.38 496.43 L812.33 496.82 L812.30 497.15 L812.27 497.44 L812.24 497.72 L812.21 498.01 L812.17 498.33 L812.13 498.70 L812.08 499.14 L812.01 499.65 L811.93 500.23 L811.85 500.85 L811.77 501.50 L811.68 502.17 L811.59 502.85 L811.50 503.52 L811.41 504.18 L811.33 504.82 L811.25 505.46 L811.17 506.11 L811.09 506.76 L811.01 507.41 L810.92 508.06 L810.84 508.71 L810.76 509.36 L811.21 509.16 L811.67 508.96 L812.13 508.75 L812.60 508.55 L813.05 508.34 L813.48 508.15 L813.88 507.97 L814.24 507.80 L814.55 507.65 L814.81 507.53 L815.03 507.43 L815.24 507.33 L815.45 507.22 L815.66 507.11 L815.89 506.97 L816.16 506.80 L816.47 506.60 L816.81 506.38 L817.16 506.13 L817.52 505.88 L817.89 505.61 L818.26 505.34 L818.61 505.07 L818.95 504.80 L819.27 504.55 L819.56 504.31 L819.85 504.07 L820.13 503.83 L820.42 503.57 L820.72 503.28 L821.05 502.94 L821.41 502.55 L821.83 502.08 L822.30 501.52 L822.81 500.90 L823.33 500.26 L823.83 499.63 L824.30 499.03 L824.71 498.49 L825.04 498.05 L825.26 497.73 L825.41 497.51 L825.49 497.37 L825.54 497.25 L825.58 497.14 L825.62 496.98 L825.70 496.76 L825.83 496.43 L826.01 495.98 L826.23 495.46 L826.47 494.87 L826.72 494.25 L826.98 493.59 L827.23 492.94 L827.46 492.29 L827.66 491.68 L827.84 491.09 L828.00 490.51 L828.15 489.94 L828.29 489.37 L828.42 488.79 L828.55 488.19 L828.67 487.57 L828.79 486.93 L828.90 486.23 L829.01 485.49 L829.10 484.71 L829.20 483.93 L829.29 483.15 L829.37 482.40 L829.46 481.69 L829.54 481.05 L829.62 480.49 L829.69 479.99 L829.76 479.54 L829.83 479.12 L829.90 478.70 L829.97 478.28 L830.03 477.81 L830.10 477.30 L830.17 476.73 L830.23 476.13 L830.29 475.50 L830.35 474.85 L830.41 474.20 L830.48 473.55 L830.54 472.91 L830.60 472.30 L830.66 471.70 L830.73 471.11 L830.80 470.52 L830.86 469.94 L830.93 469.37 L830.99 468.81 L831.05 468.28 L831.11 467.78 L831.17 467.29 L831.23 466.82 L831.28 466.37 L831.34 465.93 L831.39 465.52 L831.44 465.13 L831.48 464.76 L831.52 464.41 L831.56 464.10 L831.59 463.83 L831.62 463.59 L831.64 463.36 L831.66 463.15 L831.68 462.93 L831.71 462.71 L831.74 462.46 L831.77 462.20 L831.80 461.94 L831.84 461.67 L831.87 461.40 L831.91 461.13 L831.94 460.85 L831.98 460.58 L832.01 460.31Z"/><path d="M832.16 484.80 L832.47 485.11 L832.80 485.43 L833.14 485.74 L833.49 486.06 L833.84 486.37 L834.21 486.68 L834.58 487.00 L834.96 487.31 L835.35 487.62 L835.74 487.94 L836.14 488.25 L836.54 488.57 L836.95 488.88 L837.36 489.19 L837.78 489.51 L838.20 489.82 L838.62 490.14 L839.05 490.45 L839.47 490.76 L839.90 491.08 L840.33 491.39 L840.76 491.70 L841.19 492.02 L841.62 492.33 L842.05 492.65 L842.48 492.96 L842.90 493.27 L843.33 493.59 L843.75 493.90 L844.17 494.22 L844.59 494.53 L845.01 494.84 L845.43 495.16 L845.84 495.47 L846.25 495.78 L846.65 496.10 L847.05 496.41 L847.45 496.73 L847.84 497.04 L848.23 497.35 L848.62 497.67 L849.00 497.98 L849.37 498.30 L849.74 498.61 L850.11 498.92 L850.47 499.24 L850.82 499.55 L851.17 499.86 L851.52 500.18 L851.86 500.49 L852.19 500.81 L852.52 501.12 L852.84 501.43 L853.16 501.75 L853.47 502.06 L853.78 502.38 L854.08 502.69 L854.37 503.00 L854.66 503.32 L854.94 503.63 L855.21 503.94 L855.48 504.26 L855.75 504.57 L856.01 504.89 L856.26 505.20 L856.50 505.51 L856.75 505.83 L856.98 506.14 L857.21 506.46 L857.43 506.77 L857.65 507.08 L857.86 507.40 L858.07 507.71 L858.27 508.02 L858.47 508.34 L858.66 508.65 L858.84 508.97 L859.02 509.28 L859.19 509.59 L859.36 509.91 L859.53 510.22 L859.69 510.54 L859.84 510.85 L859.99 511.16 L860.14 511.48 L860.28 511.79 L860.41 512.10 L860.54 512.42 L860.67 512.73 L860.80 513.05 L860.91 513.36 L861.03 513.67 L861.14 513.99 L861.25 514.30 L861.35 514.62 L861.45 514.93 L861.55 515.24 L861.64 515.56 L861.73 515.87 L861.81 516.18 L861.90 516.50 L861.98 516.81 L862.05 517.13 L862.13 517.44 L862.20 517.75 L862.26 518.07 L862.33 518.38 L862.39 518.70 L862.45 519.01 L862.51 519.32 L862.56 519.64 L862.62 519.95 L862.67 520.26 L862.72 520.58 L862.76 520.89 L862.81 521.21 L862.85 521.52 L862.89 521.83 L862.92 522.15 L862.96 522.46 L862.99 522.78 L863.03 523.09 L863.06 523.40 L863.08 523.72 L863.11 524.03 L863.13 524.34 L863.16 524.66 L863.18 524.97 L863.19 525.29 L863.21 525.60 L863.23 525.91 L863.24 526.23 L863.25 526.54 L863.26 526.86 L863.26 527.17 L863.27 527.48 L863.27 527.80 L863.27 528.11 L863.26 528.42 L862.92 528.11 L862.57 527.80 L862.22 527.48 L861.86 527.17 L861.49 526.86 L861.12 526.54 L860.74 526.23 L860.35 525.91 L859.96 525.60 L859.56 525.29 L859.16 524.97 L858.76 524.66 L858.35 524.34 L857.94 524.03 L857.52 523.72 L857.11 523.40 L856.69 523.09 L856.26 522.78 L855.84 522.46 L855.41 522.15 L854.99 521.83 L854.56 521.52 L854.13 521.21 L853.70 520.89 L853.27 520.58 L852.84 520.26 L852.41 519.95 L851.98 519.64 L851.55 519.32 L851.13 519.01 L850.70 518.70 L850.27 518.38 L849.85 518.07 L849.43 517.75 L849.01 517.44 L848.60 517.13 L848.18 516.81 L847.77 516.50 L847.37 516.18 L846.96 515.87 L846.56 515.56 L846.16 515.24 L845.77 514.93 L845.38 514.62 L844.99 514.30 L844.61 513.99 L844.23 513.67 L843.86 513.36 L843.49 513.05 L843.13 512.73 L842.77 512.42 L842.42 512.10 L842.07 511.79 L841.73 511.48 L841.39 511.16 L841.06 510.85 L840.74 510.54 L840.41 510.22 L840.10 509.91 L839.79 509.59 L839.49 509.28 L839.19 508.97 L838.90 508.65 L838.62 508.34 L838.34 508.02 L838.07 507.71 L837.80 507.40 L837.55 507.08 L837.29 506.77 L837.05 506.46 L836.81 506.14 L836.58 505.83 L836.35 505.51 L836.13 505.20 L835.92 504.89 L835.71 504.57 L835.51 504.26 L835.31 503.94 L835.13 503.63 L834.95 503.32 L834.77 503.00 L834.61 502.69 L834.44 502.38 L834.29 502.06 L834.14 501.75 L834.00 501.43 L833.86 501.12 L833.73 500.81 L833.61 500.49 L833.49 500.18 L833.38 499.86 L833.27 499.55 L833.17 499.24 L833.07 498.92 L832.98 498.61 L832.90 498.30 L832.82 497.98 L832.75 497.67 L832.68 497.35 L832.62 497.04 L832.56 496.73 L832.50 496.41 L832.45 496.10 L832.41 495.78 L832.37 495.47 L832.33 495.16 L832.30 494.84 L832.27 494.53 L832.24 494.22 L832.22 493.90 L832.20 493.59 L832.18 493.27 L832.17 492.96 L832.16 492.65 L832.15 492.33 L832.15 492.02 L832.14 491.70 L832.14 491.39 L832.14 491.08 L832.14 490.76 L832.14 490.45 L832.14 490.14 L832.14 489.82 L832.15 489.51 L832.15 489.19 L832.15 488.88 L832.16 488.57 L832.16 488.25 L832.16 487.94 L832.16 487.62 L832.15 487.31 L832.15 487.00 L832.14 486.68 L832.13 486.37 L832.12 486.06 L832.11 485.74 L832.09 485.43 L832.06 485.11Z"/><path d="M841.96 516.43 L841.57 516.20 L841.18 515.96 L840.79 515.71 L840.40 515.46 L840.01 515.22 L839.62 514.97 L839.23 514.73 L838.84 514.49 L838.45 514.25 L838.06 514.02 L837.67 513.79 L837.28 513.56 L836.89 513.33 L836.50 513.11 L836.11 512.90 L835.72 512.69 L835.33 512.48 L834.94 512.28 L834.55 512.09 L834.16 511.90 L833.77 511.72 L833.38 511.55 L832.99 511.38 L832.60 511.22 L832.21 511.07 L831.82 510.92 L831.43 510.78 L831.04 510.65 L830.65 510.52 L830.26 510.41 L829.87 510.30 L829.48 510.20 L829.09 510.10 L828.70 510.01 L828.31 509.94 L827.92 509.86 L827.53 509.80 L827.14 509.74 L826.75 509.70 L826.36 509.66 L825.97 509.62 L825.58 509.60 L825.19 509.58 L824.80 509.57 L824.41 509.56 L824.02 509.57 L823.63 509.58 L823.24 509.59 L822.85 509.62 L822.46 509.65 L822.07 509.68 L821.68 509.73 L821.29 509.78 L820.90 509.83 L820.51 509.89 L820.12 509.96 L819.73 510.03 L819.34 510.11 L818.95 510.19 L818.55 510.28 L818.16 510.37 L817.77 510.47 L817.38 510.57 L816.99 510.68 L816.60 510.79 L816.21 510.91 L815.82 511.02 L815.43 511.15 L815.04 511.27 L814.65 511.40 L814.26 511.53 L813.87 511.67 L813.48 511.81 L813.09 511.95 L812.70 512.09 L812.31 512.23 L811.92 512.38 L811.53 512.53 L811.14 512.68 L810.75 512.83 L810.36 512.99 L809.97 513.14 L809.58 513.30 L809.19 513.46 L808.80 513.62 L808.41 513.78 L808.02 513.94 L807.63 514.10 L807.24 514.27 L806.85 514.43 L806.46 514.59 L806.07 514.76 L805.68 514.92 L805.29 515.09 L804.90 515.26 L804.51 515.42 L804.12 515.59 L803.73 515.76 L803.34 515.93 L802.95 516.10 L802.56 516.26 L802.17 516.44 L801.78 516.61 L801.39 516.78 L801.00 516.95 L800.61 517.13 L800.22 517.30 L799.83 517.48 L799.44 517.66 L799.05 517.84 L798.66 518.02 L798.27 518.21 L797.88 518.40 L797.49 518.59 L797.10 518.78 L796.71 518.98 L796.32 519.18 L795.93 519.39 L795.54 519.60 L792.41 520.92 L789.29 521.80 L792.41 523.80 L795.54 525.34 L795.93 525.48 L796.32 525.61 L796.71 525.74 L797.10 525.86 L797.49 525.99 L797.88 526.11 L798.27 526.23 L798.66 526.34 L799.05 526.46 L799.44 526.57 L799.83 526.67 L800.22 526.78 L800.61 526.88 L801.00 526.97 L801.39 527.06 L801.78 527.15 L802.17 527.24 L802.56 527.32 L802.95 527.39 L803.34 527.46 L803.73 527.53 L804.12 527.59 L804.51 527.65 L804.90 527.70 L805.29 527.75 L805.68 527.80 L806.07 527.84 L806.46 527.87 L806.85 527.90 L807.24 527.92 L807.63 527.94 L808.02 527.96 L808.41 527.97 L808.80 527.97 L809.19 527.97 L809.58 527.97 L809.97 527.96 L810.36 527.94 L810.75 527.92 L811.14 527.90 L811.53 527.87 L811.92 527.84 L812.31 527.80 L812.70 527.75 L813.09 527.71 L813.48 527.65 L813.87 527.60 L814.26 527.53 L814.65 527.47 L815.04 527.40 L815.43 527.32 L815.82 527.24 L816.21 527.16 L816.60 527.07 L816.99 526.98 L817.38 526.88 L817.77 526.79 L818.16 526.68 L818.55 526.57 L818.95 526.46 L819.34 526.35 L819.73 526.23 L820.12 526.11 L820.51 525.98 L820.90 525.86 L821.29 525.73 L821.68 525.59 L822.07 525.45 L822.46 525.31 L822.85 525.17 L823.24 525.02 L823.63 524.88 L824.02 524.73 L824.41 524.57 L824.80 524.42 L825.19 524.26 L825.58 524.10 L825.97 523.94 L826.36 523.77 L826.75 523.61 L827.14 523.44 L827.53 523.27 L827.92 523.10 L828.31 522.93 L828.70 522.75 L829.09 522.58 L829.48 522.40 L829.87 522.22 L830.26 522.04 L830.65 521.86 L831.04 521.68 L831.43 521.50 L831.82 521.32 L832.21 521.13 L832.60 520.95 L832.99 520.76 L833.38 520.58 L833.77 520.39 L834.16 520.21 L834.55 520.02 L834.94 519.83 L835.33 519.64 L835.72 519.45 L836.11 519.27 L836.50 519.08 L836.89 518.89 L837.28 518.70 L837.67 518.51 L838.06 518.32 L838.45 518.13 L838.84 517.94 L839.23 517.75 L839.62 517.56 L840.01 517.37 L840.40 517.18 L840.79 516.98 L841.18 516.79 L841.57 516.60Z"/></g>
<text x="872.5" y="510.8" font-size="52" fill="#fff" stroke="#fff" stroke-width="1.1" textLength="97" lengthAdjust="spacingAndGlyphs">icea</text>
<text x="875.8" y="528.7" font-size="12.5" fill="#E6E6EC" textLength="148.4" lengthAdjust="spacingAndGlyphs">El Valor del Conocimiento</text>
</svg>
</body></html>
